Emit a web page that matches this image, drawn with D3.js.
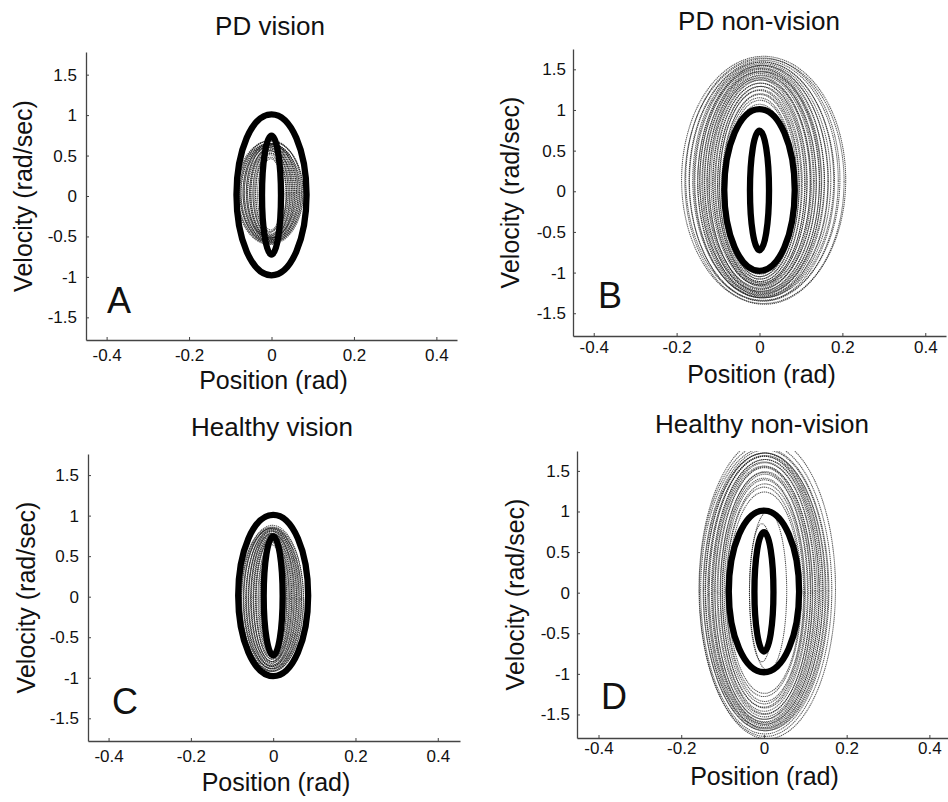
<!DOCTYPE html>
<html><head><meta charset="utf-8">
<script src="https://cdn.jsdelivr.net/npm/d3@7"></script>
<style>
html,body{margin:0;padding:0;background:#fff;}
svg{display:block;font-family:"Liberation Sans",Arial,Helvetica,sans-serif;}
</style></head><body>
<svg id="chart" width="948" height="802"></svg>
<script>
// ---------------- data ----------------
const panelTitles = ["PD vision", "PD non-vision", "Healthy vision", "Healthy non-vision"];
const panelLetters = ["A", "B", "C", "D"];
const xTicks = [-0.4, -0.2, 0, 0.2, 0.4];
const yTicks = [-1.5, -1, -0.5, 0, 0.5, 1, 1.5];
const xLabel = "Position (rad)";
const yLabel = "Velocity (rad/sec)";

// target ellipses (outer, inner): position amplitude, velocity amplitude, velocity centre
const targetAmpX = [0.085, 0.023];
const targetAmpV = [0.995, 0.735];
const targetCy = [0.015, 0.01];

const pdVisionAmpX = [0.081, 0.079, 0.077, 0.075, 0.073, 0.071, 0.069, 0.067, 0.065, 0.063, 0.061, 0.059, 0.057, 0.055, 0.053, 0.051, 0.049, 0.047, 0.045, 0.043, 0.041, 0.039, 0.037, 0.034, 0.031, 0.028];
const pdVisionAmpV = [0.64, 0.63, 0.62, 0.63, 0.61, 0.60, 0.61, 0.59, 0.60, 0.58, 0.59, 0.57, 0.58, 0.56, 0.57, 0.55, 0.56, 0.54, 0.55, 0.53, 0.52, 0.51, 0.50, 0.48, 0.46, 0.44];
const pdVisionCx = [-0.004, -0.003, -0.005, -0.002, -0.004, -0.003, -0.005, -0.002, -0.004, -0.003, -0.005, -0.002, -0.004, -0.003, -0.005, -0.002, -0.004, -0.003, -0.005, -0.002, -0.004, -0.003, -0.002, -0.004, -0.003, -0.002];
const pdVisionCy = [0.04, 0.05, 0.03, 0.06, 0.04, 0.05, 0.03, 0.05, 0.04, 0.06, 0.03, 0.05, 0.04, 0.02, 0.05, 0.03, 0.04, 0.02, 0.05, 0.03, 0.04, 0.02, 0.03, 0.03, 0.02, 0.02];

const pdNonVisionAmpX = [0.198, 0.192, 0.186, 0.180, 0.175, 0.170, 0.165, 0.161, 0.157, 0.153, 0.150, 0.147, 0.144, 0.141, 0.138, 0.135, 0.132, 0.129, 0.126, 0.123, 0.120, 0.117, 0.114, 0.111, 0.108, 0.105, 0.102, 0.099, 0.096, 0.093, 0.090, 0.087, 0.084, 0.080];
const pdNonVisionAmpV = [1.52, 1.51, 1.49, 1.48, 1.47, 1.45, 1.44, 1.43, 1.42, 1.41, 1.40, 1.39, 1.38, 1.37, 1.36, 1.35, 1.33, 1.32, 1.31, 1.30, 1.28, 1.27, 1.26, 1.24, 1.23, 1.21, 1.20, 1.18, 1.16, 1.14, 1.12, 1.10, 1.07, 1.03];
const pdNonVisionCx = [0.010, 0.012, 0.008, 0.010, 0.006, 0.009, 0.007, 0.005, 0.008, 0.004, 0.006, 0.003, 0.005, 0.004, 0.006, 0.002, 0.005, 0.003, 0.004, 0.002, 0.003, 0.005, 0.001, 0.003, 0.002, 0.004, 0.001, 0.002, 0.000, 0.002, 0.001, 0.000, 0.001, 0.000];
const pdNonVisionCy = [0.14, 0.12, 0.15, 0.13, 0.12, 0.14, 0.13, 0.12, 0.13, 0.11, 0.14, 0.12, 0.10, 0.13, 0.11, 0.12, 0.10, 0.13, 0.11, 0.09, 0.12, 0.10, 0.11, 0.09, 0.10, 0.08, 0.09, 0.07, 0.08, 0.06, 0.07, 0.05, 0.05, 0.04];

const healthyVisionAmpX = [0.077, 0.075, 0.073, 0.071, 0.069, 0.067, 0.065, 0.063, 0.061, 0.059, 0.057, 0.055, 0.053, 0.051, 0.049, 0.047, 0.045, 0.043, 0.041, 0.039, 0.037, 0.035, 0.032, 0.029];
const healthyVisionAmpV = [0.89, 0.90, 0.88, 0.87, 0.88, 0.86, 0.85, 0.86, 0.84, 0.83, 0.82, 0.83, 0.81, 0.80, 0.79, 0.78, 0.77, 0.76, 0.75, 0.74, 0.72, 0.71, 0.69, 0.67];
const healthyVisionCx = [-0.003, -0.002, -0.004, -0.002, -0.003, -0.004, -0.002, -0.003, -0.004, -0.002, -0.003, -0.004, -0.002, -0.003, -0.004, -0.002, -0.003, -0.004, -0.002, -0.003, -0.004, -0.002, -0.003, -0.003];
const healthyVisionCy = [-0.03, -0.02, -0.04, -0.02, -0.03, -0.02, -0.04, -0.03, -0.02, -0.03, -0.04, -0.02, -0.03, -0.02, -0.03, -0.02, -0.03, -0.04, -0.02, -0.03, -0.02, -0.03, -0.02, -0.03];

const healthyNonVisionAmpX = [0.165, 0.160, 0.155, 0.151, 0.148, 0.145, 0.142, 0.139, 0.136, 0.133, 0.130, 0.127, 0.124, 0.121, 0.118, 0.115, 0.112, 0.109, 0.106, 0.103, 0.100, 0.097, 0.094, 0.091, 0.088, 0.045, 0.030];
const healthyNonVisionAmpV = [1.85, 1.80, 1.76, 1.73, 1.71, 1.70, 1.69, 1.68, 1.66, 1.65, 1.63, 1.62, 1.60, 1.58, 1.56, 1.54, 1.52, 1.49, 1.47, 1.44, 1.41, 1.38, 1.34, 1.29, 1.24, 0.98, 0.85];
const healthyNonVisionCx = [0.008, 0.004, 0.002, 0.004, 0.002, 0.003, 0.001, 0.003, 0.002, 0.001, 0.003, 0.002, 0.001, 0.002, 0.000, 0.002, 0.001, 0.003, 0.001, 0.002, 0.000, 0.001, 0.002, 0.000, 0.001, 0.010, -0.005];
const healthyNonVisionCy = [0.05, 0.03, 0.02, 0.03, 0.01, 0.02, 0.03, 0.01, 0.02, 0.03, 0.01, 0.02, 0.01, 0.02, 0.00, 0.01, 0.02, 0.00, 0.01, 0.02, 0.00, 0.01, 0.00, 0.01, 0.00, 0.02, 0.00];

// axis extents of each panel
const xDomains = [[-0.45, 0.45], [-0.45, 0.45], [-0.45, 0.454], [-0.452, 0.445]];
const yDomains = [[-1.78, 1.78], [-1.78, 1.75], [-1.78, 1.76], [-1.79, 1.745]];

// ---------------- layout ----------------
const frames = [
  {left: 86,  right: 457, top: 52,  bottom: 340, xPad: 9, yPad: 9, titleX: 270, titleY: 35,  xlabY: 389, ylabX: 32,  letX: 107, letY: 313},
  {left: 573, right: 946, top: 49,  bottom: 336, xPad: 5, yPad: 7, titleX: 759, titleY: 30,  xlabY: 383, ylabX: 519, letX: 598, letY: 308},
  {left: 88,  right: 460, top: 454, bottom: 741, xPad: 9, yPad: 9, titleX: 272, titleY: 436, xlabY: 791, ylabX: 35,  letX: 112, letY: 714},
  {left: 577, right: 948, top: 451, bottom: 738, xPad: 4, yPad: 7, titleX: 762, titleY: 433, xlabY: 785, ylabX: 524, letX: 601, letY: 709}
];

const loopSets = [
  {ax: pdVisionAmpX, av: pdVisionAmpV, cx: pdVisionCx, cy: pdVisionCy},
  {ax: pdNonVisionAmpX, av: pdNonVisionAmpV, cx: pdNonVisionCx, cy: pdNonVisionCy},
  {ax: healthyVisionAmpX, av: healthyVisionAmpV, cx: healthyVisionCx, cy: healthyVisionCy},
  {ax: healthyNonVisionAmpX, av: healthyNonVisionAmpV, cx: healthyNonVisionCx, cy: healthyNonVisionCy}
];

const svg = d3.select("#chart");
const defs = svg.append("defs");

frames.forEach((f, i) => {
  const x = d3.scaleLinear().domain(xDomains[i]).range([f.left, f.right]);
  const y = d3.scaleLinear().domain(yDomains[i]).range([f.bottom, f.top]);
  const g = svg.append("g");

  defs.append("clipPath").attr("id", "clip" + i)
    .append("rect").attr("x", f.left).attr("y", f.top)
    .attr("width", f.right - f.left).attr("height", f.bottom - f.top);

  // trajectory loops
  const ls = loopSets[i];
  const loops = ls.ax.map((a, k) => ({ax: a, av: ls.av[k] || 0, cx: ls.cx[k] || 0, cy: ls.cy[k] || 0}));
  g.append("g").attr("clip-path", `url(#clip${i})`)
    .selectAll("ellipse").data(loops).join("ellipse")
    .attr("cx", d => x(d.cx)).attr("cy", d => y(d.cy))
    .attr("rx", d => x(d.cx + d.ax) - x(d.cx))
    .attr("ry", d => y(d.cy) - y(d.cy + d.av))
    .attr("fill", "none")
    .attr("stroke", "#111")
    .attr("stroke-opacity", 0.7)
    .attr("stroke-width", 1.05)
    .attr("stroke-dasharray", "1.3 0.7");

  // target ellipses
  const targets = targetAmpX.map((a, k) => ({ax: a, av: targetAmpV[k], cy: targetCy[k]}));
  g.append("g").selectAll("ellipse").data(targets).join("ellipse")
    .attr("cx", x(0)).attr("cy", d => y(d.cy))
    .attr("rx", d => x(d.ax) - x(0))
    .attr("ry", d => y(d.cy) - y(d.cy + d.av))
    .attr("fill", "none")
    .attr("stroke", "#000")
    .attr("stroke-width", 6.3);

  // axes
  const fmt = d => String(d);
  const xa = g.append("g").attr("transform", `translate(0,${f.bottom})`)
    .call(d3.axisBottom(x).tickValues(xTicks).tickSizeInner(-3).tickSizeOuter(0).tickPadding(f.xPad).tickFormat(fmt));
  const ya = g.append("g").attr("transform", `translate(${f.left},0)`)
    .call(d3.axisLeft(y).tickValues(yTicks).tickSizeInner(-3).tickSizeOuter(0).tickPadding(f.yPad).tickFormat(fmt));
  [xa, ya].forEach(a => {
    a.attr("font-family", null).attr("font-size", null);
    a.select(".domain").attr("stroke", "#444").attr("stroke-width", 1.3);
    a.selectAll(".tick line").attr("stroke", "#444").attr("stroke-width", 1);
    a.selectAll(".tick text").attr("fill", "#111").style("font-size", "17px");
  });

  // titles and labels
  g.append("text").attr("x", f.titleX).attr("y", f.titleY)
    .attr("text-anchor", "middle").style("font-size", "26px").attr("fill", "#111")
    .text(panelTitles[i]);
  g.append("text").attr("x", (f.left + f.right) / 2 + 2).attr("y", f.xlabY)
    .attr("text-anchor", "middle").style("font-size", "25px").attr("fill", "#111")
    .text(xLabel);
  g.append("text").attr("transform", `translate(${f.ylabX},${(f.top + f.bottom) / 2})rotate(-90)`)
    .attr("text-anchor", "middle").style("font-size", "25px").attr("fill", "#111")
    .text(yLabel);
  g.append("text").attr("x", f.letX).attr("y", f.letY)
    .style("font-size", "36px").attr("fill", "#111")
    .text(panelLetters[i]);
});
</script>
</body></html>
